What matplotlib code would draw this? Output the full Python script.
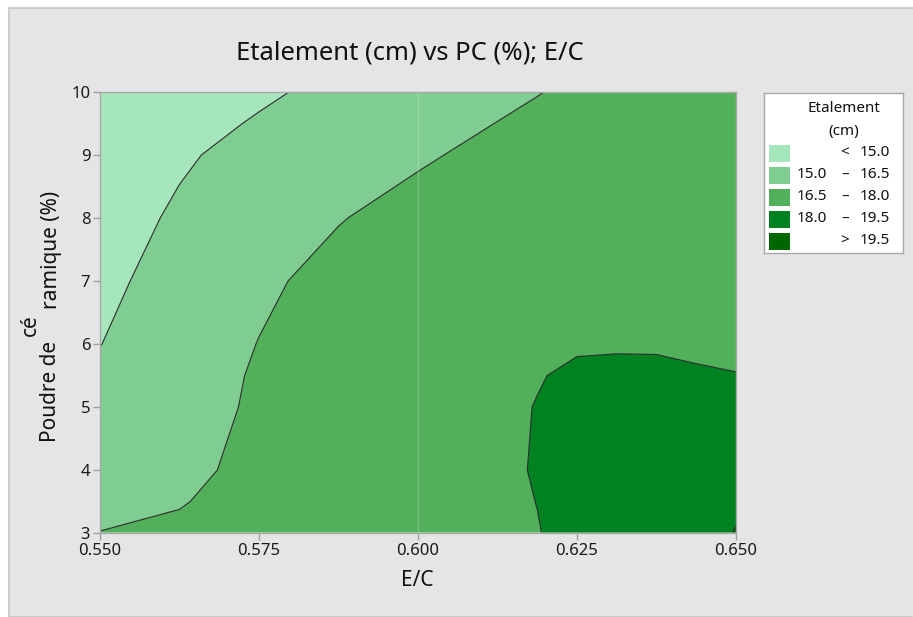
import numpy as np
import matplotlib
matplotlib.use("Agg")
import matplotlib.pyplot as plt
from matplotlib.patches import Rectangle

plt.rcParams['font.family'] = ['Noto Sans', 'DejaVu Sans']

# ---- data ----
ec_values = [0.550, 0.5625, 0.575, 0.5875, 0.600, 0.6125, 0.61875, 0.625, 0.63125, 0.6375, 0.64375, 0.650]
pc_values = [3, 3.5, 4, 5, 5.5, 6, 7, 8, 9, 9.5, 10]
etal_pc3_0 = [16.52, 16.65, 16.90, 17.20, 17.50, 17.80, 17.97, 18.25, 18.45, 18.70, 19.05, 19.55]
etal_pc3_5 = [16.20, 16.45, 16.82, 17.15, 17.49, 17.83, 18.01, 18.25, 18.45, 18.68, 18.93, 19.32]
etal_pc4_0 = [15.90, 16.30, 16.72, 17.10, 17.48, 17.85, 18.05, 18.25, 18.45, 18.65, 18.82, 19.00]
etal_pc5_0 = [15.45, 16.07, 16.65, 17.10, 17.45, 17.80, 18.03, 18.20, 18.30, 18.35, 18.33, 18.30]
etal_pc5_5 = [15.21, 15.91, 16.63, 17.05, 17.43, 17.75, 17.95, 18.15, 18.20, 18.20, 18.15, 18.04]
etal_pc6_0 = [14.98, 15.75, 16.53, 17.00, 17.40, 17.70, 17.82, 17.90, 17.91, 17.90, 17.75, 17.70]
etal_pc7_0 = [14.70, 15.49, 16.27, 16.90, 17.25, 17.55, 17.67, 17.78, 17.82, 17.85, 17.78, 17.68]
etal_pc8_0 = [14.50, 15.16, 15.80, 16.44, 16.95, 17.35, 17.48, 17.60, 17.66, 17.70, 17.68, 17.65]
etal_pc9_0 = [14.30, 14.86, 15.37, 15.86, 16.34, 16.83, 17.02, 17.20, 17.33, 17.45, 17.52, 17.55]
etal_pc9_5 = [14.12, 14.62, 15.10, 15.57, 16.05, 16.52, 16.74, 16.95, 17.12, 17.28, 17.40, 17.50]
etal_pc10_0 = [13.95, 14.39, 14.83, 15.28, 15.75, 16.22, 16.46, 16.70, 16.90, 17.10, 17.28, 17.45]

level_bounds = [15.0, 16.5, 18.0, 19.5]
level_colors = ['#a6e6bd', '#80cd91', '#52b05b', '#008220', '#006600']
x_ticks = [0.550, 0.575, 0.600, 0.625, 0.650]
x_ticklabels = ['0.550', '0.575', '0.600', '0.625', '0.650']
y_ticks = [3, 4, 5, 6, 7, 8, 9, 10]

title = 'Etalement (cm) vs PC (%); E/C'
xlabel = 'E/C'
legend_title = ['Etalement', '(cm)']

# ---- figure ----
W, H = 913, 617
fig = plt.figure(figsize=(W / 100, H / 100), dpi=100)
fig.patch.set_facecolor('white')
fig.patches.append(Rectangle((9 / W, 0), 1 - 9 / W + 0.01, 1 - 8 / H,
                             transform=fig.transFigure, facecolor='#e5e5e5',
                             edgecolor='#c4c4c4', lw=1.2, zorder=-10))

ax = fig.add_axes([100 / W, 1 - 533 / H, 636 / W, 441 / H])
X, Y = np.meshgrid(ec_values, pc_values)
Z = np.array([etal_pc3_0, etal_pc3_5, etal_pc4_0, etal_pc5_0, etal_pc5_5, etal_pc6_0,
              etal_pc7_0, etal_pc8_0, etal_pc9_0, etal_pc9_5, etal_pc10_0])
levels = [Z.min() - 1] + level_bounds + [Z.max() + 1]
ax.contourf(X, Y, Z, levels=levels, colors=level_colors, antialiased=True)
ax.contour(X, Y, Z, levels=level_bounds, colors='#2b2b2b', linewidths=0.8)
ax.axvline(0.600, color='white', alpha=0.22, lw=1)
ax.axvline(0.550, color='white', alpha=0.35, lw=1.5)
ax.axhline(3, color='white', alpha=0.35, lw=1.5)

ax.set_xlim(0.550, 0.650)
ax.set_ylim(3, 10)
ax.set_xticks(x_ticks)
ax.set_xticklabels(x_ticklabels)
ax.set_yticks(y_ticks)
ax.tick_params(axis='both', direction='out', length=5, width=1, color='#a0a0a0',
               labelcolor='#1a1a1a', labelsize=12, pad=2)
for sp in ax.spines.values():
    sp.set_color('#a8a8a8')
    sp.set_linewidth(1)

fig.text(410 / W, 1 - 53 / H, title, ha='center', va='center', fontsize=18.5, color='#111111')
fig.text(417 / W, 1 - 581 / H, xlabel, ha='center', va='center', fontsize=15, color='#111111')
# split y label as in the reference
ykw = dict(rotation=90, rotation_mode='anchor', ha='center', va='baseline', fontsize=15, color='#111111')
fig.text(56 / W, 1 - 391 / H, 'Poudre de', **ykw)
fig.text(36 / W, 1 - 325 / H, 'cé', **ykw)
fig.text(57 / W, 1 - 250 / H, 'ramique (%)', **ykw)

# ---- legend ----
lx0, lx1, ly0, ly1 = 764, 903, 93, 253
lax = fig.add_axes([lx0 / W, 1 - ly1 / H, (lx1 - lx0) / W, (ly1 - ly0) / H])
lax.set_xlim(lx0, lx1)
lax.set_ylim(ly1, ly0)
lax.set_facecolor('white')
lax.set_xticks([])
lax.set_yticks([])
for sp in lax.spines.values():
    sp.set_color('#a8a8a8')
    sp.set_linewidth(1)
lax.text(844, 109, legend_title[0], ha='center', va='center', fontsize=11, color='#111111')
lax.text(844, 131, legend_title[1], ha='center', va='center', fontsize=11, color='#111111')
bounds_ext = [None] + level_bounds + [None]
fs = 11
for i, col in enumerate(level_colors):
    yc = 153 + i * 22
    lax.add_patch(Rectangle((769, yc - 8.5), 21, 17, facecolor=col, edgecolor='none'))
    lo, hi = bounds_ext[i], bounds_ext[i + 1]
    if lo is None:
        lax.text(845, yc, '<', ha='center', va='center', fontsize=fs, color='#111111')
        lax.text(860, yc, f'{hi:.1f}', ha='left', va='center', fontsize=fs, color='#111111')
    elif hi is None:
        lax.text(845, yc, '>', ha='center', va='center', fontsize=fs, color='#111111')
        lax.text(860, yc, f'{lo:.1f}', ha='left', va='center', fontsize=fs, color='#111111')
    else:
        lax.text(797, yc, f'{lo:.1f}', ha='left', va='center', fontsize=fs, color='#111111')
        lax.text(845, yc, '–', ha='center', va='center', fontsize=fs, color='#111111')
        lax.text(860, yc, f'{hi:.1f}', ha='left', va='center', fontsize=fs, color='#111111')

fig.savefig('out.png', dpi=100, facecolor=fig.get_facecolor())
